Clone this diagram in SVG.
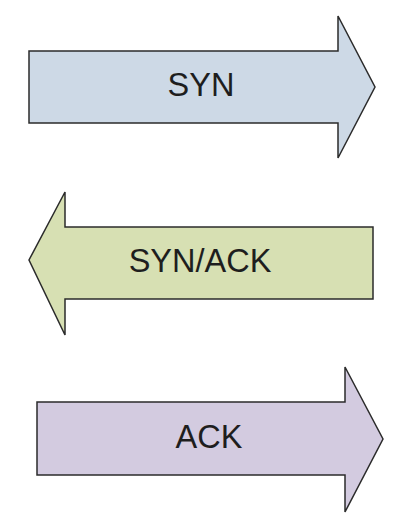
<svg xmlns="http://www.w3.org/2000/svg" width="410" height="528" viewBox="0 0 410 528">
<style>
.arrow{stroke:#2b2b2b;stroke-width:1.5;stroke-linejoin:miter}
.lbl{font-family:"Liberation Sans",Arial,sans-serif;font-size:32.5px;fill:#1e1e1e;text-anchor:middle}
</style>
<rect width="410" height="528" fill="#ffffff"/>
<g id="syn">
<path class="arrow" fill="#cdd9e6" d="M29,51 L338,51 L338,16 L375,87 L338,158 L338,123 L29,123 Z"/>
<text class="lbl" x="201" y="96">SYN</text>
</g>
<g id="synack">
<path class="arrow" fill="#d7e0b3" d="M373,227 L65,227 L65,192 L29,260 L65,335 L65,299 L373,299 Z"/>
<text class="lbl" x="200" y="272">SYN/ACK</text>
</g>
<g id="ack">
<path class="arrow" fill="#d3cbe0" d="M37,402 L345,402 L345,367 L383,439 L345,512 L345,475 L37,475 Z"/>
<text class="lbl" x="209" y="448">ACK</text>
</g>
<g id="connectors"></g>
</svg>
